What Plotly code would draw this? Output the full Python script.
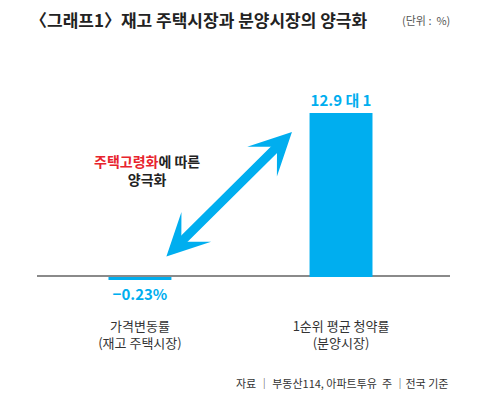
import plotly.graph_objects as go

categories = ["가격변동률<br>(재고 주택시장)", "1순위 평균 청약률<br>(분양시장)"]
values = [-0.23, 12.9]
value_labels = ["−0.23%", "12.9 대 1"]

BLUE = "#00AEEF"
FONT = "Noto Sans CJK KR"

fig = go.Figure()
fig.add_trace(go.Bar(
    x=[0, 1], y=values, width=0.313,
    marker=dict(color=BLUE, line=dict(width=0)),
    text=value_labels, textposition="outside", cliponaxis=False,
    textfont=dict(family=FONT, size=15, color=BLUE, weight="bold"),
    hoverinfo="skip",
))

fig.update_layout(
    width=496, height=406,
    margin=dict(l=37, r=46, t=60, b=106),
    paper_bgcolor="white", plot_bgcolor="white",
    showlegend=False,
    font=dict(family=FONT, color="#333333"),
    xaxis=dict(range=[-0.512, 1.542], tickvals=[0, 1], ticktext=categories,
               showgrid=False, zeroline=False, showline=False, ticks="",
               ticklabelstandoff=17,
               tickfont=dict(size=13, color="#333333"), fixedrange=True),
    yaxis=dict(range=[-1.81, 17.07], showgrid=False, zeroline=False,
               showticklabels=False, showline=False, fixedrange=True),
)

# baseline
fig.add_shape(type="line", xref="paper", yref="y", x0=0, x1=1, y0=0.08, y1=0.08,
              line=dict(color="#8a8a8a", width=2), layer="below")

# title
fig.add_annotation(xref="paper", yref="paper", x=-0.022, y=1.167, xanchor="left", yanchor="middle",
                   text="<b>〈그래프1〉재고 주택시장과 분양시장의 양극화</b>", showarrow=False,
                   font=dict(family=FONT, size=17, color="#222222"))
fig.add_annotation(xref="paper", yref="paper", x=1.005, y=1.167, xanchor="right", yanchor="middle",
                   text="(단위 :  %)", showarrow=False,
                   font=dict(family=FONT, size=11, color="#555555"))

# annotation text
fig.add_annotation(xref="x", yref="y", x=0.035, y=8.45, xanchor="center", yanchor="middle",
                   text="<b><span style='color:#E8232D'>주택고령화</span>에 따른<br>양극화</b>",
                   showarrow=False, align="center",
                   font=dict(family=FONT, size=14, color="#222222"))

# double-headed arrow
fig.add_annotation(xref="x", yref="y", axref="x", ayref="y",
                   x=0.756, y=11.41, ax=0.124, ay=1.49,
                   text="", showarrow=True, arrowhead=3, startarrowhead=3,
                   arrowside="end+start", arrowwidth=9, arrowsize=0.78, startarrowsize=0.78,
                   arrowcolor=BLUE, standoff=0, startstandoff=0)

# source
fig.add_annotation(xref="paper", yref="paper", x=1.0, y=-0.346, xanchor="right", yanchor="middle",
                   text="자료 │ 부동산114, 아파트투유  주 │전국 기준", showarrow=False,
                   font=dict(family=FONT, size=11, color="#333333"))

fig.write_html("out.html", post_script="document.body.style.margin='0';",
               config={"displayModeBar": False})
